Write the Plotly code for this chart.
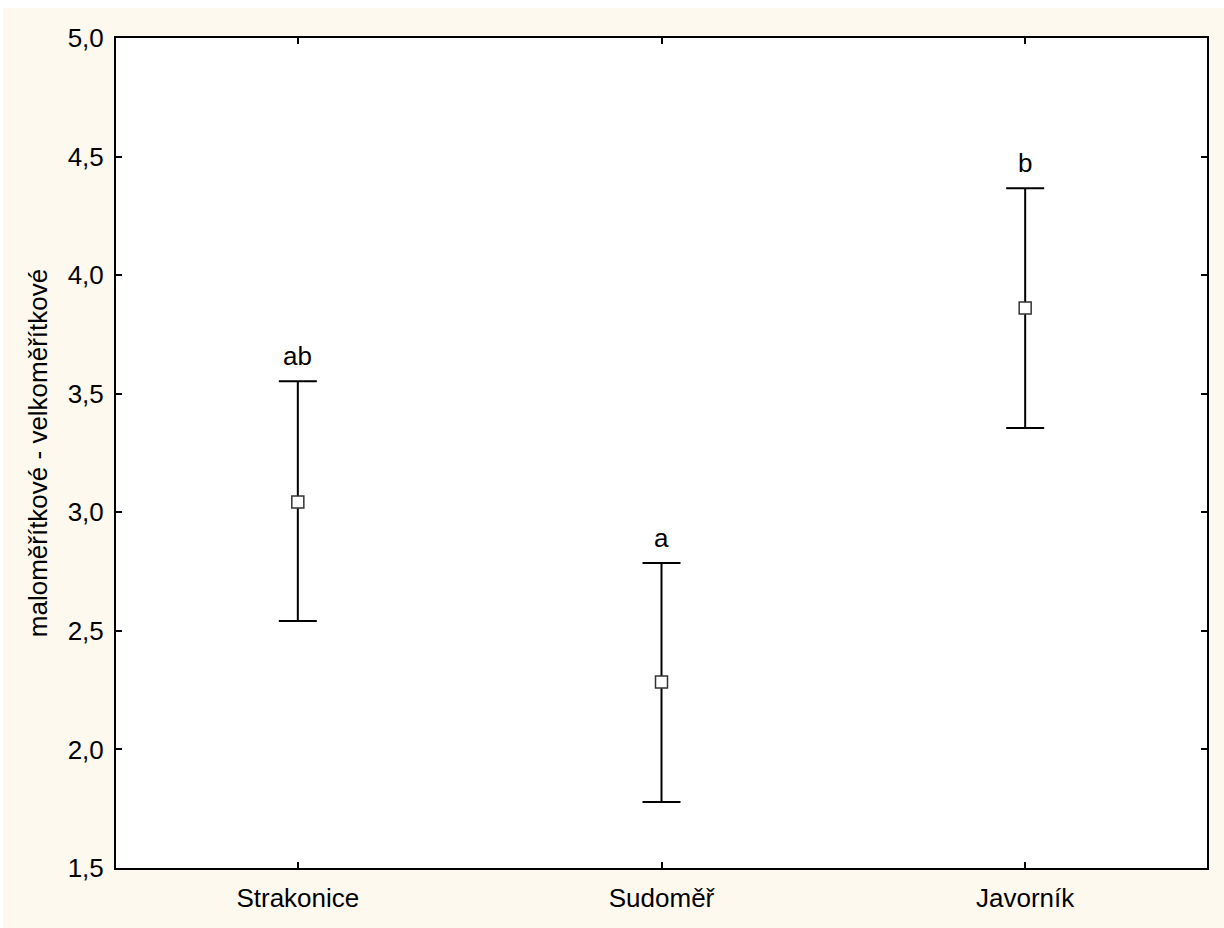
import plotly.graph_objects as go

categories = ["Strakonice", "Sudoměř", "Javorník"]
means = [3.043, 2.284, 3.861]
upper = [3.553, 2.786, 4.366]
lower = [2.542, 1.778, 3.355]
group_labels = ["ab", "a", "b"]
y_ticks = [1.5, 2.0, 2.5, 3.0, 3.5, 4.0, 4.5, 5.0]
y_tick_text = ["1,5", "2,0", "2,5", "3,0", "3,5", "4,0", "4,5", "5,0"]

FONT = "Liberation Sans, Arial, sans-serif"
FS = 26
CREAM = "#FEF9EE"

x_idx = list(range(len(categories)))
err_plus = [u - m for u, m in zip(upper, means)]
err_minus = [m - l for m, l in zip(means, lower)]

fig = go.Figure()
fig.add_trace(go.Scatter(
    x=x_idx, y=means, mode="markers",
    marker=dict(symbol="square", size=12, color="white",
                line=dict(color="#333333", width=1.5)),
    error_y=dict(type="data", symmetric=False, array=err_plus, arrayminus=err_minus,
                 color="black", thickness=2, width=19),
    showlegend=False, hoverinfo="skip",
))

for xi, u, lab in zip(x_idx, upper, group_labels):
    fig.add_annotation(x=xi, y=u, text=lab, showarrow=False, yanchor="bottom",
                       yshift=8, font=dict(family=FONT, size=FS, color="black"))

W, H = 1224, 928
L, R, T, B = 116, 17, 38, 60
pw, ph = W - L - R, H - T - B

# white strips at top and left of the cream background
fig.add_shape(type="rect", xref="paper", yref="paper",
              x0=-L / pw - 0.05, x1=(W - L) / pw + 0.05,
              y0=(H - B - 8) / ph, y1=(H - B) / ph + 0.05,
              fillcolor="white", line=dict(width=0), layer="below")
fig.add_shape(type="rect", xref="paper", yref="paper",
              x0=-L / pw - 0.05, x1=(3 - L) / pw,
              y0=-B / ph - 0.05, y1=(H - B) / ph + 0.05,
              fillcolor="white", line=dict(width=0), layer="below")

fig.update_layout(
    width=W, height=H,
    margin=dict(l=L, r=R, t=T, b=B),
    paper_bgcolor=CREAM, plot_bgcolor="white",
    font=dict(family=FONT, size=FS, color="black"),
    xaxis=dict(range=[-0.5, 2.5], tickvals=x_idx, ticktext=categories,
               showline=True, linecolor="black", linewidth=2, mirror="ticks",
               ticks="inside", ticklen=6, tickwidth=1.5, tickcolor="black",
               tickfont=dict(family=FONT, size=FS), ticklabelstandoff=6,
               showgrid=False, zeroline=False, fixedrange=True),
    yaxis=dict(range=[1.5, 5.0], tickvals=y_ticks, ticktext=y_tick_text,
               showline=True, linecolor="black", linewidth=2, mirror="ticks",
               ticks="inside", ticklen=6, tickwidth=1.5, tickcolor="black",
               tickfont=dict(family=FONT, size=FS), ticklabelstandoff=5,
               showgrid=False, zeroline=False, fixedrange=True,
               title=dict(text="maloměřítkové - velkoměřítkové", standoff=13,
                          font=dict(family=FONT, size=FS))),
)

fig.write_html("out.html", config={"displayModeBar": False},
               post_script="document.body.style.margin='0';document.body.style.padding='0';")
